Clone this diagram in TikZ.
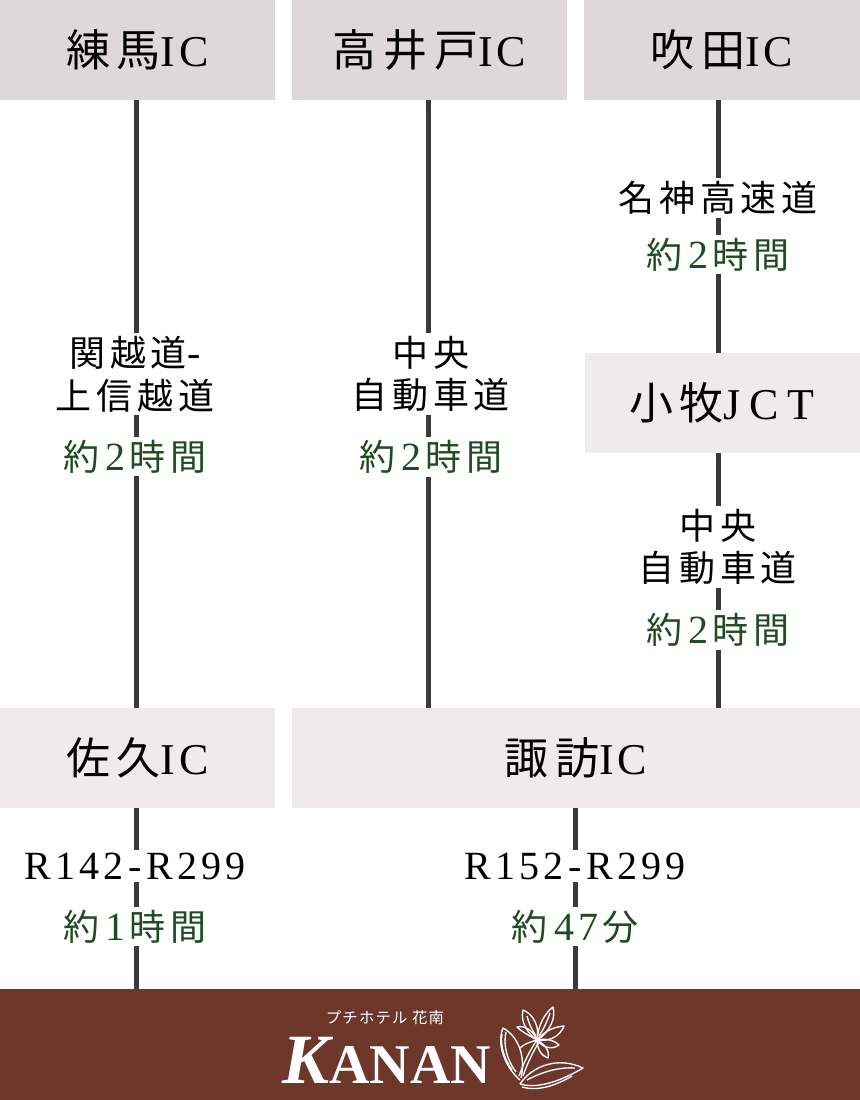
\documentclass[tikz,border=0pt]{standalone}
\usepackage{fontspec}
\usetikzlibrary{positioning}
\setmainfont{Liberation Serif}
\newfontfamily\cjklabel[LetterSpace=13]{Noto Sans CJK JP}
\newfontfamily\latinlabel[LetterSpace=11]{Liberation Serif}
\newfontfamily\cjkhead[LetterSpace=15]{Noto Sans CJK JP}
\newfontfamily\latinhead[LetterSpace=9]{Liberation Serif}
\newfontfamily\latinwide[LetterSpace=20]{Liberation Serif}
\newfontfamily\cjklogo[LetterSpace=8]{Noto Sans CJK JP}
\definecolor{topgray}{HTML}{DFD8DA}
\definecolor{lowgray}{HTML}{EFEAEC}
\definecolor{roadgray}{HTML}{3A3A3A}
\definecolor{timegreen}{HTML}{1E4D22}
\definecolor{kananbrown}{HTML}{6E372C}
\newcommand{\hd}[1]{{\cjkhead #1}}
\newcommand{\hl}[1]{{\latinhead #1}}
\newcommand{\rd}[1]{{\cjklabel #1}}
\newcommand{\lt}[1]{{\fontsize{30}{32}\latinlabel #1}}
\newcommand{\num}[1]{\hspace{5pt}{\fontsize{30}{32}\latinlabel #1}\hspace{3pt}}
\begin{document}
\begin{tikzpicture}[x=0.75pt, y=-0.75pt, node distance=12.75pt]

	\tikzstyle{headbox} = [rectangle, inner sep=0pt, outer sep=0pt, minimum height=75pt, minimum width=206.25pt, align=center, font=\fontsize{33}{38}\selectfont]
	\tikzstyle{upper} = [headbox, fill=topgray]
	\tikzstyle{lower} = [headbox, fill=lowgray]
	\tikzstyle{road} = [draw=roadgray, line width=3.75pt]
	\tikzstyle{roadname} = [fill=white, inner xsep=2pt, inner ysep=2.25pt, outer sep=0pt, align=center, font=\fontsize{27}{32}\selectfont]
	\tikzstyle{roadtime} = [roadname, text=timegreen]

	\useasboundingbox (0,0) rectangle (860,1100);

	% Define nodes
	\node[upper] (nerima) at (137.5,50) {\raisebox{1pt}{\hd{練馬}\hl{IC}}};
	\node[upper, right=of nerima] (takaido) {\raisebox{1pt}{\hd{高井戸}\hl{IC}}};
	\node[upper, right=of takaido, minimum width=207pt] (suita) {\raisebox{1pt}{\hd{吹田}\hl{IC}}};
	\node[lower] (komaki) at (722,403) {\raisebox{1pt}{\hd{小牧}{\latinwide JCT}}};
	\node[lower] (saku) at (137.5,758) {\raisebox{1pt}{\hd{佐久}\hl{IC}}};
	\node[lower, minimum width=426pt] (suwa) at (576,758) {\raisebox{1pt}{\hd{諏訪}\hl{IC}}};
	\node[rectangle, fill=kananbrown, inner sep=0pt, outer sep=0pt, minimum width=645pt, minimum height=83.25pt] (kanan) at (430,1044.5) {};

	% Draw lines
	\draw[road] ([xshift=-1.1pt]nerima.south) -- ([xshift=-1.1pt]saku.north);
	\draw[road] ([xshift=-1.1pt]takaido.south) -- ([xshift=-1.1pt]takaido.south |- suwa.north);
	\draw[road] ([xshift=-3pt]suita.south) -- ([xshift=-3pt]suita.south |- komaki.north);
	\draw[road] ([xshift=-3pt]komaki.south) -- ([xshift=-3pt]komaki.south |- suwa.north);
	\draw[road] ([xshift=-1.1pt]saku.south) -- ([xshift=-1.1pt]saku.south |- kanan.north);
	\draw[road] ([xshift=-0.75pt]suwa.south) -- ([xshift=-0.75pt]suwa.south |- kanan.north);

	% Labels on the lines
	\node[roadname] (meishin) at (718,198) {\rd{名神高速道}};
	\node[roadtime, below=13pt of meishin] (meishintime) {\rd{約}\num{2}\rd{時間}};
	\node[roadname] (kanetsu) at (135,374) {\rd{関越道}\lt{-}\\\rd{上信越道}};
	\node[roadtime, below=16.75pt of kanetsu] (kanetsutime) {\rd{約}\num{2}\rd{時間}};
	\node[roadname] (chuo) at (431,374) {\rd{中央}\\\rd{自動車道}};
	\node[roadtime, below=16.75pt of chuo] (chuotime) {\rd{約}\num{2}\rd{時間}};
	\node[roadname] (chuotwo) at (718,547) {\rd{中央}\\\rd{自動車道}};
	\node[roadtime, below=16.75pt of chuotwo] (chuotwotime) {\rd{約}\num{2}\rd{時間}};
	\node[roadname] (rsaku) at (135,866) {\lt{R142-R299}};
	\node[roadtime, below=18.5pt of rsaku] (rsakutime) {\rd{約}\num{1}\rd{時間}};
	\node[roadname] (rsuwa) at (575,866) {\lt{R152-R299}};
	\node[roadtime, below=18.5pt of rsuwa] (rsuwatime) {\rd{約}\num{47}\rd{分}};

	% Logo
	\node[text=white, inner sep=0pt, font=\fontsize{11.5}{12}\selectfont] (kanansub) at (385,1018) {\cjklogo プチホテル 花南};
	\node[text=white, inner sep=0pt, anchor=base west] (kananname) at (282,1083) {\fontsize{53}{54}\selectfont\bfseries\itshape K\fontsize{42}{50}\selectfont\upshape ANAN};
	\begin{scope}[draw=white, line width=1pt, fill=none, line join=round]
		\draw (520,1080) .. controls (506,1068) and (496,1045) .. (503,1028) .. controls (518,1036) and (526,1056) .. (521,1078);
		\draw (516,1072) .. controls (507,1060) and (503,1045) .. (506,1032);
		\draw (512,1070) .. controls (504,1058) and (500,1045) .. (502,1034);
		\draw (520,1084) .. controls (532,1066) and (558,1056) .. (583,1068) .. controls (566,1078) and (540,1090) .. (520,1084);
		\draw (527,1080) .. controls (542,1072) and (558,1067) .. (575,1068);
		\draw (522,1087) .. controls (540,1092) and (558,1084) .. (572,1076);
		\draw (519,1076) .. controls (524,1062) and (530,1050) .. (537,1040);
		\draw (523,1076) .. controls (527,1064) and (533,1052) .. (539,1042);
		\draw (537,1040) .. controls (528,1034) and (520,1022) .. (523,1010) .. controls (533,1014) and (540,1026) .. (537,1040);
		\draw (537,1040) .. controls (538,1026) and (544,1014) .. (553,1007) .. controls (556,1018) and (550,1032) .. (537,1040);
		\draw (537,1040) .. controls (546,1030) and (554,1027) .. (564,1026) .. controls (560,1036) and (550,1042) .. (537,1040);
		\draw (537,1040) .. controls (545,1038) and (554,1040) .. (559,1045) .. controls (552,1050) and (543,1048) .. (537,1040);
		\draw (537,1040) .. controls (544,1044) and (550,1050) .. (548,1058) .. controls (541,1056) and (537,1048) .. (537,1040);
		\draw (537,1040) .. controls (530,1036) and (522,1032) .. (517,1027) .. controls (524,1025) and (533,1030) .. (537,1040);
		\draw (537,1040) .. controls (530,1042) and (524,1044) .. (520,1048);
		\draw (527,1016) .. controls (529,1024) and (532,1030) .. (536,1036);
		\draw (550,1013) .. controls (547,1022) and (543,1030) .. (539,1036);
	\end{scope}

\end{tikzpicture}
\end{document}
